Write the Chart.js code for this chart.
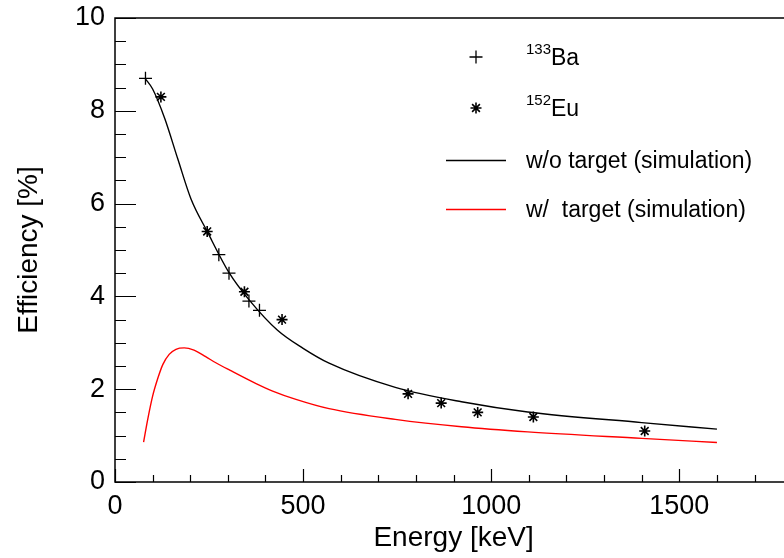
<!DOCTYPE html>
<html>
<head>
<meta charset="utf-8">
<script src="https://cdn.jsdelivr.net/npm/chart.js@4/dist/chart.umd.min.js"></script>
<style>
  html, body { margin: 0; padding: 0; background: #fff; overflow: hidden; }
  #wrap { width: 800px; height: 558px; position: relative; }
</style>
</head>
<body>
<div id="wrap"><canvas id="c" width="800" height="558"></canvas></div>
<script>
// Measured photopeak efficiencies
const baEnergy = [81, 276, 303, 356, 384];
const baEff    = [8.7, 4.9, 4.5, 3.9, 3.7];
const euEnergy = [122, 245, 344, 444, 779, 867, 964, 1112, 1408];
const euEff    = [8.3, 5.4, 4.1, 3.5, 1.9, 1.7, 1.5, 1.4, 1.1];

// Simulated efficiency without target
const simNoTgtEnergy = [80, 100, 132, 167, 202, 245, 304, 357, 432, 500, 569, 745, 921, 1097, 1400, 1600];
const simNoTgtEff    = [8.70, 8.47, 7.84, 6.96, 6.10, 5.40, 4.50, 3.92, 3.27, 2.88, 2.56, 2.04, 1.73, 1.51, 1.28, 1.14];

// Simulated efficiency with target
const simTgtEnergy = [76, 87, 100, 114, 127, 144, 162, 184, 210, 241, 268, 305, 375, 419, 481, 569, 745, 921, 1097, 1400, 1600];
const simTgtEff    = [0.86, 1.35, 1.85, 2.24, 2.53, 2.75, 2.86, 2.89, 2.84, 2.70, 2.57, 2.41, 2.12, 1.96, 1.78, 1.58, 1.35, 1.19, 1.08, 0.94, 0.85];

// Axis ticks
const xTickValues = [0,100,200,300,400,500,600,700,800,900,1000,1100,1200,1300,1400,1500,1600,1700,1800];
const xTickLabels = {0: '0', 500: '500', 1000: '1000', 1500: '1500'};
const yTickValues = [0,0.5,1,1.5,2,2.5,3,3.5,4,4.5,5,5.5,6,6.5,7,7.5,8,8.5,9,9.5,10];
const yTickLabels = {0: '0', 2: '2', 4: '4', 6: '6', 8: '8', 10: '10'};

const legendItems = [
  {sup: '133', text: 'Ba', ds: 0},
  {sup: '152', text: 'Eu', ds: 1},
  {sup: '', text: 'w/o target (simulation)', ds: 2},
  {sup: '', text: 'w/  target (simulation)', ds: 3}
];

const FONT = '"Liberation Sans", Arial, Helvetica, sans-serif';

const toXY = (xs, ys) => xs.map((x, i) => ({x: x, y: ys[i]}));

// Inward-pointing ticks and the plot frame
const frameTicks = {
  id: 'frameTicks',
  afterDatasetsDraw(chart) {
    const {ctx, chartArea: a, scales: {x, y}} = chart;
    ctx.save();
    ctx.strokeStyle = '#000';
    ctx.lineWidth = 1.5;
    ctx.strokeRect(a.left, a.top, a.right - a.left, a.bottom - a.top);
    ctx.lineWidth = 1.2;
    ctx.beginPath();
    xTickValues.forEach(v => {
      const px = Math.round(x.getPixelForValue(v)) + 0.5;
      const len = v % 500 === 0 ? 13 : 7;
      ctx.moveTo(px, a.bottom);
      ctx.lineTo(px, a.bottom - len);
    });
    yTickValues.forEach(v => {
      const py = Math.round(y.getPixelForValue(v)) + 0.5;
      const len = v % 2 === 0 ? 21 : 11;
      ctx.moveTo(a.left, py);
      ctx.lineTo(a.left + len, py);
    });
    ctx.stroke();
    ctx.restore();
  }
};

// Legend with superscripted isotope names
const isoLegend = {
  id: 'isoLegend',
  afterDraw(chart) {
    const {ctx} = chart;
    const rows = [57, 108, 160, 209];
    ctx.save();
    legendItems.forEach((item, i) => {
      const ds = chart.data.datasets[item.ds];
      const yy = rows[i];
      if (ds.showLine === false) {
        ctx.strokeStyle = ds.borderColor;
        ctx.fillStyle = ds.backgroundColor;
        ctx.lineWidth = ds.borderWidth;
        Chart.helpers.drawPoint(ctx, {
          pointStyle: ds.pointStyle, radius: ds.pointRadius, rotation: 0,
          borderWidth: ds.borderWidth
        }, 476, yy);
      } else {
        ctx.strokeStyle = ds.borderColor;
        ctx.lineWidth = ds.borderWidth;
        ctx.beginPath();
        ctx.moveTo(446, yy + 0.5);
        ctx.lineTo(506, yy + 0.5);
        ctx.stroke();
      }
      ctx.fillStyle = '#000';
      ctx.textBaseline = 'alphabetic';
      ctx.textAlign = 'left';
      let tx = 526;
      if (item.sup) {
        ctx.font = '15px ' + FONT;
        ctx.fillText(item.sup, tx, yy - 3);
        tx += ctx.measureText(item.sup).width;
      }
      ctx.font = '23px ' + FONT;
      ctx.fillText(item.text, tx, yy + 8);
    });
    ctx.restore();
  }
};

new Chart(document.getElementById('c'), {
  type: 'scatter',
  data: {
    datasets: [
      {
        label: '133Ba', data: toXY(baEnergy, baEff), showLine: false,
        pointStyle: 'cross', pointRadius: 6.5, pointHoverRadius: 6.5,
        borderColor: '#000', backgroundColor: '#000', borderWidth: 1.3, order: 0
      },
      {
        label: '152Eu', data: toXY(euEnergy, euEff), showLine: false,
        pointStyle: 'star', pointRadius: 5.5, pointHoverRadius: 5.5,
        borderColor: '#000', backgroundColor: '#000', borderWidth: 1.6, order: 0
      },
      {
        label: 'w/o target (simulation)', data: toXY(simNoTgtEnergy, simNoTgtEff), showLine: true,
        borderColor: '#000', borderWidth: 1.4, pointRadius: 0, pointHoverRadius: 0,
        cubicInterpolationMode: 'monotone', fill: false, order: 1
      },
      {
        label: 'w/ target (simulation)', data: toXY(simTgtEnergy, simTgtEff), showLine: true,
        borderColor: '#ff0000', borderWidth: 1.4, pointRadius: 0, pointHoverRadius: 0,
        cubicInterpolationMode: 'monotone', fill: false, order: 1
      }
    ]
  },
  options: {
    responsive: false,
    animation: false,
    events: [],
    layout: {padding: {top: 18, right: 4, left: 0, bottom: 0}},
    plugins: {legend: {display: false}, tooltip: {enabled: false}},
    scales: {
      x: {
        type: 'linear', min: 0, max: 1800,
        afterBuildTicks: s => { s.ticks = xTickValues.map(v => ({value: v})); },
        afterFit: s => { s.height = 76; s.paddingLeft = 0; s.paddingRight = 0; },
        grid: {display: false, drawTicks: false},
        border: {display: false},
        ticks: {
          autoSkip: false, maxRotation: 0, padding: 8, color: '#000',
          font: {family: FONT, size: 27},
          callback: v => (xTickLabels[v] !== undefined ? xTickLabels[v] : '')
        },
        title: {display: true, text: 'Energy [keV]', color: '#000',
                font: {family: FONT, size: 28}, padding: {top: 0, bottom: 3}}
      },
      y: {
        type: 'linear', min: 0, max: 10,
        afterBuildTicks: s => { s.ticks = yTickValues.map(v => ({value: v})); },
        afterFit: s => { s.width = 115; s.paddingTop = 0; s.paddingBottom = 0; },
        grid: {display: false, drawTicks: false},
        border: {display: false},
        ticks: {
          autoSkip: false, padding: 10, color: '#000',
          font: {family: FONT, size: 27},
          callback: v => (yTickLabels[v] !== undefined ? yTickLabels[v] : '')
        },
        title: {display: true, text: 'Efficiency [%]', color: '#000',
                font: {family: FONT, size: 28}, padding: {top: 12, bottom: 0}}
      }
    }
  },
  plugins: [frameTicks, isoLegend]
});
</script>
</body>
</html>
